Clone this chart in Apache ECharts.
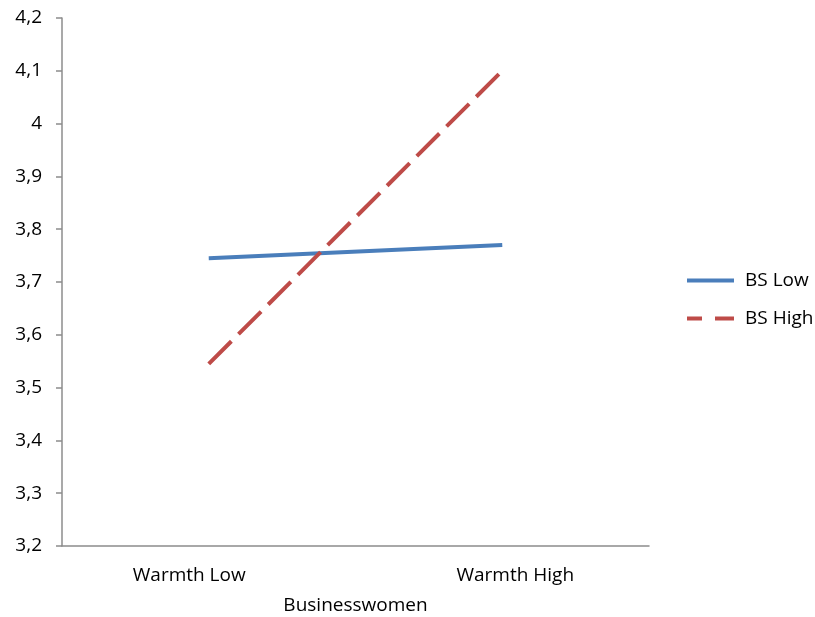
<!DOCTYPE html>
<html>
<head>
<meta charset="utf-8">
<script src="https://cdn.jsdelivr.net/npm/echarts@6/dist/echarts.min.js"></script>
<style>
  html, body { margin: 0; padding: 0; background: #fff; }
  #chart { width: 815px; height: 617px; }
</style>
</head>
<body>
<div id="chart"></div>
<script>
// Interaction plot: warmth condition vs. BS level
const categories = ['Warmth Low', 'Warmth High'];
const bsLow = [3.745, 3.77];
const bsHigh = [3.545, 4.1];
const yTicks = { min: 3.2, max: 4.2, step: 0.1 };

const FONT = 'Open Sans';
const FS = 19;
const BLUE = '#4a7ebb';
const RED = '#be4b48';
const chart = echarts.init(document.getElementById('chart'));

chart.setOption({
  animation: false,
  textStyle: { fontFamily: FONT },
  grid: { left: 62, right: 166, top: 18, bottom: 71, outerBoundsMode: 'none', containLabel: false },
  legend: {
    orient: 'vertical',
    left: 682,
    top: 266,
    itemWidth: 47,
    itemHeight: 4,
    itemGap: 19,
    textStyle: { fontFamily: FONT, fontSize: FS, color: '#000', padding: [0, 0, 0, 6] },
    data: [
      { name: 'BS Low', icon: 'rect' },
      { name: 'BS High', icon: 'path://M0,0h15v4h-15z M28,0h19v4h-19z' }
    ]
  },
  xAxis: {
    type: 'category',
    data: categories,
    boundaryGap: true,
    name: 'Businesswomen',
    nameLocation: 'middle',
    nameGap: 50,
    nameTextStyle: { fontFamily: FONT, fontSize: FS, color: '#000' },
    axisLine: { lineStyle: { color: '#8c8c8c', width: 1.5 } },
    axisTick: { show: false },
    axisLabel: {
      margin: 20,
      fontFamily: FONT,
      fontSize: FS,
      color: '#000',
      formatter: function (v) {
        return v === categories[0] ? '{a|' + v + '}' : '{b|' + v + '}';
      },
      rich: {
        a: { fontFamily: FONT, fontSize: FS, color: '#000', padding: [0, 39, 0, 0] },
        b: { fontFamily: FONT, fontSize: FS, color: '#000', padding: [0, 0, 0, 26] }
      }
    }
  },
  yAxis: {
    type: 'value',
    min: yTicks.min,
    max: yTicks.max,
    interval: yTicks.step,
    splitLine: { show: false },
    axisLine: { show: true, lineStyle: { color: '#8c8c8c', width: 1.5 } },
    axisTick: { show: true, length: 6, lineStyle: { color: '#8c8c8c', width: 1.5 } },
    axisLabel: {
      margin: 20,
      fontFamily: FONT,
      fontSize: FS,
      color: '#000',
      formatter: function (v) {
        return String(Math.round(v * 10) / 10).replace('.', ',');
      }
    }
  },
  series: [
    {
      name: 'BS Low',
      type: 'line',
      data: bsLow,
      symbol: 'none',
      lineStyle: { color: BLUE, width: 4 },
      itemStyle: { color: BLUE }
    },
    {
      name: 'BS High',
      type: 'line',
      data: bsHigh,
      symbol: 'none',
      lineStyle: { color: RED, width: 4, type: [32, 10] },
      itemStyle: { color: RED }
    }
  ]
});
</script>
</body>
</html>
